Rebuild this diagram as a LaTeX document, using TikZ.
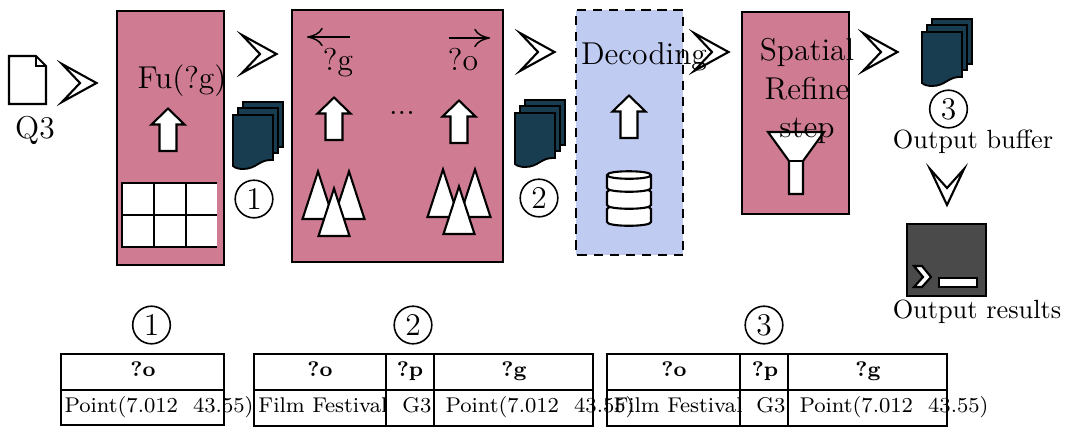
\documentclass[tikz,border=0pt]{standalone}
\usepackage{fontspec}
\setmainfont{Latin Modern Roman}
\usetikzlibrary{arrows.meta}
\definecolor{rosebox}{HTML}{CF7C93}
\definecolor{bluebox}{HTML}{C0CBF2}
\definecolor{sheet}{HTML}{183D50}
\definecolor{term}{HTML}{4A4A4A}
\tikzset{
  ln/.style={line width=0.8pt,line join=miter},
  stage/.style={ln,draw=black,fill=rosebox},
  big/.style={inner sep=0pt,anchor=base,font=\fontsize{12}{14.6}\selectfont},
  mid/.style={inner sep=0pt,anchor=base,font=\fontsize{10}{12}\selectfont},
  tab/.style={inner sep=0pt,anchor=base,font=\fontsize{8.1}{11}\selectfont},
  tabh/.style={inner sep=0pt,anchor=base,font=\fontsize{8}{10}\selectfont\bfseries},
  numc/.style={circle,draw=black,line width=0.6pt,minimum size=14.3pt,inner sep=0pt,font=\fontsize{12}{14}\selectfont},
  grid/.style={ln,draw=black},
  chev/.pic={\draw[ln,fill=white] (5,-19)--(39.5,0)--(5,19)--(23,0)--cycle;},
  upblock/.pic={\draw[ln,fill=white] (0,1.5)--(16.5,17.5)--(8.5,17.5)--(8.5,44)--(-8.5,44)--(-8.5,17.5)--(-16.5,17.5)--cycle;},
  sheetone/.pic={\draw[line width=0.7pt,fill=sheet] (0,0)--(40,0)--(40,45) .. controls (26,44) and (24,54) .. (10,54) .. controls (6,54) and (2,53) .. (0,51)--cycle;},
  stackdoc/.pic={
    \draw[line width=0.7pt,fill=sheet] (10,-13) rectangle (50,32);
    \draw[line width=0.7pt,fill=sheet] (5,-7) rectangle (45,38);
    \pic at (0,0) {sheetone};},
  peak/.pic={\draw[ln,fill=white] (0,1.5)--(15.5,49)--(-15.5,49)--cycle;},
  disk/.pic={\draw[ln,fill=white] (-22,0) .. controls (-22,-5) and (22,-5) .. (22,0)--(22,13) .. controls (22,18) and (-22,18) .. (-22,13)--cycle;},
}
\begin{document}
\begin{tikzpicture}[x=0.38pt,y=-0.38pt]
\useasboundingbox (0,0) rectangle (1065,426);
% query document
\draw[ln,fill=white] (9,56)--(36,56)--(46,66)--(46,104)--(9,104)--cycle;
\draw[ln] (36,56)--(36,66)--(46,66);
\node[big,anchor=center] (q3) at (35,130) {Q3};
% stages
\draw[stage] (117,11) rectangle (224,265);
\draw[stage] (292,10) rectangle (503,262);
\path[fill=bluebox] (576,10) rectangle (683,255);
\draw[ln,dash pattern=on 3.5pt off 2.6pt,draw=black] (683,255)--(576,255)--(576,10)--(683,10)--cycle;
\draw[stage] (742,12) rectangle (849,214);
% chevrons
\pic at (57,83) {chev};
\pic at (237,54) {chev};
\pic at (515,52) {chev};
\pic at (689,52) {chev};
\pic at (858,52) {chev};
\draw[ln,fill=white] (930,169)--(947,205)--(964,169)--(947,188)--cycle;
% stage 1
\node[big] (fu) at (182,88) {Fu(?g)};
\pic at (168,107) {upblock};
\fill[white] (122,183) rectangle (217,247);
\draw[grid] (217,183)--(122,183)--(122,247)--(217,247);
\draw[grid] (122,215)--(217,215);
\draw[grid] (154,183)--(154,247);
\draw[grid] (186,183)--(186,247);
% stage 2
\node[big] (qg) at (338,70) {?g};
\node[big] (qo) at (463,70) {?o};
\coordinate (gl) at (350,37);
\coordinate (gr) at (307,37);
\coordinate (ol) at (449,38);
\coordinate (or) at (490,38);
\draw[line width=0.55pt,-{Computer Modern Rightarrow[length=6pt,width=7pt]}] (gl)--(gr);
\draw[line width=0.55pt,-{Computer Modern Rightarrow[length=6pt,width=7pt]}] (ol)--(or);
\pic at (334,96) {upblock};
\pic at (459,99) {upblock};
\node[big,anchor=center] (dots) at (402,113) {...};
\pic at (318,170) {peak};
\pic at (349,170) {peak};
\pic at (334,187) {peak};
\pic at (443,168) {peak};
\pic at (475,168) {peak};
\pic at (459,185) {peak};
% decoding
\node[big] (dec) at (644,64) {Decoding};
\pic at (629,94) {upblock};
\pic at (629,209) {disk};
\pic at (629,192) {disk};
\pic at (629,175) {disk};
\draw[ln] (607,175) .. controls (607,180) and (651,180) .. (651,175);
% spatial refine
\draw[ln,fill=white] (768,132)--(824,132)--(803,161)--(803,194)--(789,194)--(789,161)--cycle;
\draw[ln] (789,161)--(803,161);
\node[big,anchor=center,align=center] (ref) at (807,91) {Spatial\\Refine\\step};
% paper stacks
\pic at (233,115) {stackdoc};
\pic at (515,113) {stackdoc};
\pic at (922,32) {stackdoc};
% numbered circles
\node[numc] (n1) at (254,199) {1};
\node[numc] (n2) at (539,198) {2};
\node[numc] (n3) at (948.5,109) {3};
\node[mid] (obuf) at (973,148) {Output buffer};
\node[mid] (ores) at (977,318) {Output results};
% terminal
\draw[ln,fill=term] (907,224) rectangle (986,296);
\draw[ln,fill=white] (914,266)--(922,266)--(931,277)--(922,287)--(914,287)--(923,277)--cycle;
\draw[ln,fill=white] (939,278) rectangle (977,287);
% tables
\node[numc] (t1) at (151.5,325) {1};
\node[numc] (t2) at (413,325) {2};
\node[numc] (t3) at (764,325) {3};
\draw[grid] (61,354) rectangle (224,425);
\draw[grid] (61,390)--(224,390);
\node[tabh] (a1) at (143,376) {?o};
\node[tab] (a2) at (159,412) {Point(7.012~~43.55)};
\draw[grid] (593,426.5)--(593,354)--(254,354)--(254,426.5)--cycle;
\draw[grid] (254,390)--(593,390);
\draw[grid] (386,354)--(386,426.5);
\draw[grid] (434,354)--(434,426.5);
\node[tabh] (b1) at (320,376) {?o};
\node[tabh] (b2) at (410,376) {?p};
\node[tabh] (b3) at (514,376) {?g};
\node[tab] (b4) at (323,412) {Film Festival};
\node[tab] (b5) at (417,412) {G3};
\node[tab] (b6) at (540,412) {Point(7.012~~43.55)};
\draw[grid] (947,426.5)--(947,354)--(607,354)--(607,426.5)--cycle;
\draw[grid] (607,390)--(947,390);
\draw[grid] (740,354)--(740,426.5);
\draw[grid] (788,354)--(788,426.5);
\node[tabh] (c1) at (674,376) {?o};
\node[tabh] (c2) at (765,376) {?p};
\node[tabh] (c3) at (868,376) {?g};
\node[tab] (c4) at (678,412) {Film Festival};
\node[tab] (c5) at (771,412) {G3};
\node[tab] (c6) at (894,412) {Point(7.012~~43.55)};
\end{tikzpicture}
\end{document}
